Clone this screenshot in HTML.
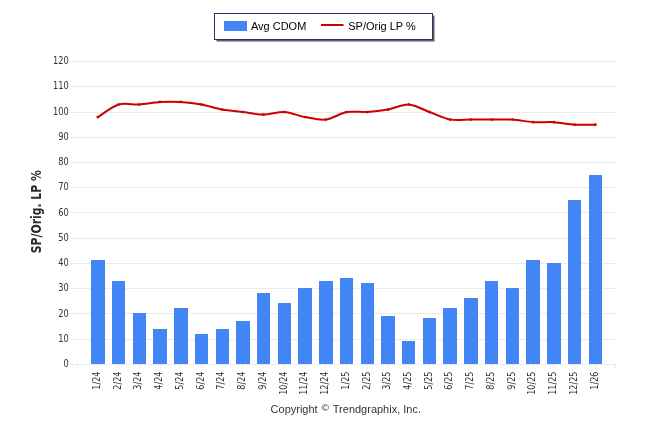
<!DOCTYPE html>
<html><head><meta charset="utf-8"><title>Chart</title>
<style>html,body{margin:0;padding:0;background:#fff}svg{display:block}text{font-family:"Liberation Sans",sans-serif}</style></head><body>
<svg width="646" height="434" viewBox="0 0 646 434">
<rect width="646" height="434" fill="#fff"/>
<line x1="70" x2="616" y1="364.5" y2="364.5" stroke="#ebebeb" stroke-width="1"/>
<line x1="70" x2="616" y1="339.5" y2="339.5" stroke="#ebebeb" stroke-width="1"/>
<line x1="70" x2="616" y1="313.5" y2="313.5" stroke="#ebebeb" stroke-width="1"/>
<line x1="70" x2="616" y1="288.5" y2="288.5" stroke="#ebebeb" stroke-width="1"/>
<line x1="70" x2="616" y1="263.5" y2="263.5" stroke="#ebebeb" stroke-width="1"/>
<line x1="70" x2="616" y1="238.5" y2="238.5" stroke="#ebebeb" stroke-width="1"/>
<line x1="70" x2="616" y1="212.5" y2="212.5" stroke="#ebebeb" stroke-width="1"/>
<line x1="70" x2="616" y1="187.5" y2="187.5" stroke="#ebebeb" stroke-width="1"/>
<line x1="70" x2="616" y1="162.5" y2="162.5" stroke="#ebebeb" stroke-width="1"/>
<line x1="70" x2="616" y1="137.5" y2="137.5" stroke="#ebebeb" stroke-width="1"/>
<line x1="70" x2="616" y1="112.5" y2="112.5" stroke="#ebebeb" stroke-width="1"/>
<line x1="70" x2="616" y1="86.5" y2="86.5" stroke="#ebebeb" stroke-width="1"/>
<line x1="70" x2="616" y1="61.5" y2="61.5" stroke="#ebebeb" stroke-width="1"/>
<line x1="77.5" x2="77.5" y1="364" y2="368.6" stroke="#ebebeb" stroke-width="1"/>
<line x1="97.5" x2="97.5" y1="364" y2="368.6" stroke="#ebebeb" stroke-width="1"/>
<line x1="118.5" x2="118.5" y1="364" y2="368.6" stroke="#ebebeb" stroke-width="1"/>
<line x1="139.5" x2="139.5" y1="364" y2="368.6" stroke="#ebebeb" stroke-width="1"/>
<line x1="160.5" x2="160.5" y1="364" y2="368.6" stroke="#ebebeb" stroke-width="1"/>
<line x1="180.5" x2="180.5" y1="364" y2="368.6" stroke="#ebebeb" stroke-width="1"/>
<line x1="201.5" x2="201.5" y1="364" y2="368.6" stroke="#ebebeb" stroke-width="1"/>
<line x1="222.5" x2="222.5" y1="364" y2="368.6" stroke="#ebebeb" stroke-width="1"/>
<line x1="242.5" x2="242.5" y1="364" y2="368.6" stroke="#ebebeb" stroke-width="1"/>
<line x1="263.5" x2="263.5" y1="364" y2="368.6" stroke="#ebebeb" stroke-width="1"/>
<line x1="284.5" x2="284.5" y1="364" y2="368.6" stroke="#ebebeb" stroke-width="1"/>
<line x1="305.5" x2="305.5" y1="364" y2="368.6" stroke="#ebebeb" stroke-width="1"/>
<line x1="325.5" x2="325.5" y1="364" y2="368.6" stroke="#ebebeb" stroke-width="1"/>
<line x1="346.5" x2="346.5" y1="364" y2="368.6" stroke="#ebebeb" stroke-width="1"/>
<line x1="367.5" x2="367.5" y1="364" y2="368.6" stroke="#ebebeb" stroke-width="1"/>
<line x1="388.5" x2="388.5" y1="364" y2="368.6" stroke="#ebebeb" stroke-width="1"/>
<line x1="408.5" x2="408.5" y1="364" y2="368.6" stroke="#ebebeb" stroke-width="1"/>
<line x1="429.5" x2="429.5" y1="364" y2="368.6" stroke="#ebebeb" stroke-width="1"/>
<line x1="450.5" x2="450.5" y1="364" y2="368.6" stroke="#ebebeb" stroke-width="1"/>
<line x1="470.5" x2="470.5" y1="364" y2="368.6" stroke="#ebebeb" stroke-width="1"/>
<line x1="491.5" x2="491.5" y1="364" y2="368.6" stroke="#ebebeb" stroke-width="1"/>
<line x1="512.5" x2="512.5" y1="364" y2="368.6" stroke="#ebebeb" stroke-width="1"/>
<line x1="533.5" x2="533.5" y1="364" y2="368.6" stroke="#ebebeb" stroke-width="1"/>
<line x1="553.5" x2="553.5" y1="364" y2="368.6" stroke="#ebebeb" stroke-width="1"/>
<line x1="574.5" x2="574.5" y1="364" y2="368.6" stroke="#ebebeb" stroke-width="1"/>
<line x1="595.5" x2="595.5" y1="364" y2="368.6" stroke="#ebebeb" stroke-width="1"/>
<line x1="615.5" x2="615.5" y1="364" y2="368.6" stroke="#ebebeb" stroke-width="1"/>
<text transform="translate(68.85,367) scale(0.75,1)" text-anchor="end" font-size="11" fill="#333333" style="font-family:'DejaVu Sans',sans-serif">0</text>
<text transform="translate(68.85,342) scale(0.75,1)" text-anchor="end" font-size="11" fill="#333333" style="font-family:'DejaVu Sans',sans-serif">10</text>
<text transform="translate(68.85,317) scale(0.75,1)" text-anchor="end" font-size="11" fill="#333333" style="font-family:'DejaVu Sans',sans-serif">20</text>
<text transform="translate(68.85,291) scale(0.75,1)" text-anchor="end" font-size="11" fill="#333333" style="font-family:'DejaVu Sans',sans-serif">30</text>
<text transform="translate(68.85,266) scale(0.75,1)" text-anchor="end" font-size="11" fill="#333333" style="font-family:'DejaVu Sans',sans-serif">40</text>
<text transform="translate(68.85,241) scale(0.75,1)" text-anchor="end" font-size="11" fill="#333333" style="font-family:'DejaVu Sans',sans-serif">50</text>
<text transform="translate(68.85,216) scale(0.75,1)" text-anchor="end" font-size="11" fill="#333333" style="font-family:'DejaVu Sans',sans-serif">60</text>
<text transform="translate(68.85,190) scale(0.75,1)" text-anchor="end" font-size="11" fill="#333333" style="font-family:'DejaVu Sans',sans-serif">70</text>
<text transform="translate(68.85,165) scale(0.75,1)" text-anchor="end" font-size="11" fill="#333333" style="font-family:'DejaVu Sans',sans-serif">80</text>
<text transform="translate(68.85,140) scale(0.75,1)" text-anchor="end" font-size="11" fill="#333333" style="font-family:'DejaVu Sans',sans-serif">90</text>
<text transform="translate(68.85,115) scale(0.75,1)" text-anchor="end" font-size="11" fill="#333333" style="font-family:'DejaVu Sans',sans-serif">100</text>
<text transform="translate(68.85,89) scale(0.75,1)" text-anchor="end" font-size="11" fill="#333333" style="font-family:'DejaVu Sans',sans-serif">110</text>
<text transform="translate(68.85,64) scale(0.75,1)" text-anchor="end" font-size="11" fill="#333333" style="font-family:'DejaVu Sans',sans-serif">120</text>
<rect x="91" y="260" width="14" height="104" fill="#4285f4"/>
<rect x="112" y="281" width="13" height="83" fill="#4285f4"/>
<rect x="133" y="313" width="13" height="51" fill="#4285f4"/>
<rect x="153" y="329" width="14" height="35" fill="#4285f4"/>
<rect x="174" y="308" width="14" height="56" fill="#4285f4"/>
<rect x="195" y="334" width="13" height="30" fill="#4285f4"/>
<rect x="216" y="329" width="13" height="35" fill="#4285f4"/>
<rect x="236" y="321" width="14" height="43" fill="#4285f4"/>
<rect x="257" y="293" width="13" height="71" fill="#4285f4"/>
<rect x="278" y="303" width="13" height="61" fill="#4285f4"/>
<rect x="298" y="288" width="14" height="76" fill="#4285f4"/>
<rect x="319" y="281" width="14" height="83" fill="#4285f4"/>
<rect x="340" y="278" width="13" height="86" fill="#4285f4"/>
<rect x="361" y="283" width="13" height="81" fill="#4285f4"/>
<rect x="381" y="316" width="14" height="48" fill="#4285f4"/>
<rect x="402" y="341" width="13" height="23" fill="#4285f4"/>
<rect x="423" y="318" width="13" height="46" fill="#4285f4"/>
<rect x="443" y="308" width="14" height="56" fill="#4285f4"/>
<rect x="464" y="298" width="14" height="66" fill="#4285f4"/>
<rect x="485" y="281" width="13" height="83" fill="#4285f4"/>
<rect x="506" y="288" width="13" height="76" fill="#4285f4"/>
<rect x="526" y="260" width="14" height="104" fill="#4285f4"/>
<rect x="547" y="263" width="14" height="101" fill="#4285f4"/>
<rect x="568" y="200" width="13" height="164" fill="#4285f4"/>
<rect x="589" y="175" width="13" height="189" fill="#4285f4"/>
<text transform="translate(100.03,371.5) rotate(-90) scale(0.735,1)" text-anchor="end" font-size="11" fill="#333333" style="font-family:'DejaVu Sans',sans-serif">1/24</text>
<text transform="translate(120.76,371.5) rotate(-90) scale(0.735,1)" text-anchor="end" font-size="11" fill="#333333" style="font-family:'DejaVu Sans',sans-serif">2/24</text>
<text transform="translate(141.49,371.5) rotate(-90) scale(0.735,1)" text-anchor="end" font-size="11" fill="#333333" style="font-family:'DejaVu Sans',sans-serif">3/24</text>
<text transform="translate(162.22,371.5) rotate(-90) scale(0.735,1)" text-anchor="end" font-size="11" fill="#333333" style="font-family:'DejaVu Sans',sans-serif">4/24</text>
<text transform="translate(182.95,371.5) rotate(-90) scale(0.735,1)" text-anchor="end" font-size="11" fill="#333333" style="font-family:'DejaVu Sans',sans-serif">5/24</text>
<text transform="translate(203.68,371.5) rotate(-90) scale(0.735,1)" text-anchor="end" font-size="11" fill="#333333" style="font-family:'DejaVu Sans',sans-serif">6/24</text>
<text transform="translate(224.41,371.5) rotate(-90) scale(0.735,1)" text-anchor="end" font-size="11" fill="#333333" style="font-family:'DejaVu Sans',sans-serif">7/24</text>
<text transform="translate(245.14,371.5) rotate(-90) scale(0.735,1)" text-anchor="end" font-size="11" fill="#333333" style="font-family:'DejaVu Sans',sans-serif">8/24</text>
<text transform="translate(265.87,371.5) rotate(-90) scale(0.735,1)" text-anchor="end" font-size="11" fill="#333333" style="font-family:'DejaVu Sans',sans-serif">9/24</text>
<text transform="translate(286.60,371.5) rotate(-90) scale(0.735,1)" text-anchor="end" font-size="11" fill="#333333" style="font-family:'DejaVu Sans',sans-serif">10/24</text>
<text transform="translate(307.33,371.5) rotate(-90) scale(0.735,1)" text-anchor="end" font-size="11" fill="#333333" style="font-family:'DejaVu Sans',sans-serif">11/24</text>
<text transform="translate(328.06,371.5) rotate(-90) scale(0.735,1)" text-anchor="end" font-size="11" fill="#333333" style="font-family:'DejaVu Sans',sans-serif">12/24</text>
<text transform="translate(348.79,371.5) rotate(-90) scale(0.735,1)" text-anchor="end" font-size="11" fill="#333333" style="font-family:'DejaVu Sans',sans-serif">1/25</text>
<text transform="translate(369.52,371.5) rotate(-90) scale(0.735,1)" text-anchor="end" font-size="11" fill="#333333" style="font-family:'DejaVu Sans',sans-serif">2/25</text>
<text transform="translate(390.25,371.5) rotate(-90) scale(0.735,1)" text-anchor="end" font-size="11" fill="#333333" style="font-family:'DejaVu Sans',sans-serif">3/25</text>
<text transform="translate(410.98,371.5) rotate(-90) scale(0.735,1)" text-anchor="end" font-size="11" fill="#333333" style="font-family:'DejaVu Sans',sans-serif">4/25</text>
<text transform="translate(431.71,371.5) rotate(-90) scale(0.735,1)" text-anchor="end" font-size="11" fill="#333333" style="font-family:'DejaVu Sans',sans-serif">5/25</text>
<text transform="translate(452.44,371.5) rotate(-90) scale(0.735,1)" text-anchor="end" font-size="11" fill="#333333" style="font-family:'DejaVu Sans',sans-serif">6/25</text>
<text transform="translate(473.17,371.5) rotate(-90) scale(0.735,1)" text-anchor="end" font-size="11" fill="#333333" style="font-family:'DejaVu Sans',sans-serif">7/25</text>
<text transform="translate(493.90,371.5) rotate(-90) scale(0.735,1)" text-anchor="end" font-size="11" fill="#333333" style="font-family:'DejaVu Sans',sans-serif">8/25</text>
<text transform="translate(514.63,371.5) rotate(-90) scale(0.735,1)" text-anchor="end" font-size="11" fill="#333333" style="font-family:'DejaVu Sans',sans-serif">9/25</text>
<text transform="translate(535.36,371.5) rotate(-90) scale(0.735,1)" text-anchor="end" font-size="11" fill="#333333" style="font-family:'DejaVu Sans',sans-serif">10/25</text>
<text transform="translate(556.09,371.5) rotate(-90) scale(0.735,1)" text-anchor="end" font-size="11" fill="#333333" style="font-family:'DejaVu Sans',sans-serif">11/25</text>
<text transform="translate(576.82,371.5) rotate(-90) scale(0.735,1)" text-anchor="end" font-size="11" fill="#333333" style="font-family:'DejaVu Sans',sans-serif">12/25</text>
<text transform="translate(597.55,371.5) rotate(-90) scale(0.735,1)" text-anchor="end" font-size="11" fill="#333333" style="font-family:'DejaVu Sans',sans-serif">1/26</text>
<path d="M97.83,117.10 C100.94,115.20 112.34,106.37 118.56,104.48 C124.78,102.59 133.07,104.86 139.29,104.48 C145.51,104.10 153.80,102.34 160.02,101.96 C166.24,101.58 174.53,101.58 180.75,101.96 C186.97,102.34 195.26,103.35 201.48,104.48 C207.70,105.62 215.99,108.39 222.21,109.53 C228.43,110.66 236.72,111.29 242.94,112.05 C249.16,112.81 257.45,114.57 263.67,114.57 C269.89,114.57 278.18,111.67 284.40,112.05 C290.62,112.43 298.91,115.96 305.13,117.10 C311.35,118.23 319.64,120.38 325.86,119.62 C332.08,118.86 340.37,113.19 346.59,112.05 C352.81,110.91 361.10,112.43 367.32,112.05 C373.54,111.67 381.83,110.66 388.05,109.53 C394.27,108.39 402.56,104.10 408.78,104.48 C415.00,104.86 423.29,109.78 429.51,112.05 C435.73,114.32 444.02,118.48 450.24,119.62 C456.46,120.75 464.75,119.62 470.97,119.62 C477.19,119.62 485.48,119.62 491.70,119.62 C497.92,119.62 506.21,119.24 512.43,119.62 C518.65,120.00 526.94,121.76 533.16,122.14 C539.38,122.52 547.67,121.76 553.89,122.14 C560.11,122.52 568.40,124.29 574.62,124.67 C580.84,125.04 592.24,124.67 595.35,124.67" fill="none" stroke="#cc0000" stroke-width="2" stroke-linecap="round" stroke-linejoin="round"/>
<circle cx="97.83" cy="117.10" r="1.35" fill="#cc0000"/>
<circle cx="118.56" cy="104.48" r="1.35" fill="#cc0000"/>
<circle cx="139.29" cy="104.48" r="1.35" fill="#cc0000"/>
<circle cx="160.02" cy="101.96" r="1.35" fill="#cc0000"/>
<circle cx="180.75" cy="101.96" r="1.35" fill="#cc0000"/>
<circle cx="201.48" cy="104.48" r="1.35" fill="#cc0000"/>
<circle cx="222.21" cy="109.53" r="1.35" fill="#cc0000"/>
<circle cx="242.94" cy="112.05" r="1.35" fill="#cc0000"/>
<circle cx="263.67" cy="114.57" r="1.35" fill="#cc0000"/>
<circle cx="284.40" cy="112.05" r="1.35" fill="#cc0000"/>
<circle cx="305.13" cy="117.10" r="1.35" fill="#cc0000"/>
<circle cx="325.86" cy="119.62" r="1.35" fill="#cc0000"/>
<circle cx="346.59" cy="112.05" r="1.35" fill="#cc0000"/>
<circle cx="367.32" cy="112.05" r="1.35" fill="#cc0000"/>
<circle cx="388.05" cy="109.53" r="1.35" fill="#cc0000"/>
<circle cx="408.78" cy="104.48" r="1.35" fill="#cc0000"/>
<circle cx="429.51" cy="112.05" r="1.35" fill="#cc0000"/>
<circle cx="450.24" cy="119.62" r="1.35" fill="#cc0000"/>
<circle cx="470.97" cy="119.62" r="1.35" fill="#cc0000"/>
<circle cx="491.70" cy="119.62" r="1.35" fill="#cc0000"/>
<circle cx="512.43" cy="119.62" r="1.35" fill="#cc0000"/>
<circle cx="533.16" cy="122.14" r="1.35" fill="#cc0000"/>
<circle cx="553.89" cy="122.14" r="1.35" fill="#cc0000"/>
<circle cx="574.62" cy="124.67" r="1.35" fill="#cc0000"/>
<circle cx="595.35" cy="124.67" r="1.35" fill="#cc0000"/>
<text transform="translate(40.8,253.2) rotate(-90)" font-size="13.3" font-weight="bold" fill="#2b2b2b" style="font-family:'DejaVu Sans',sans-serif;font-stretch:condensed" textLength="83" lengthAdjust="spacingAndGlyphs">SP/Orig. LP %</text>
<rect x="216.5" y="15.5" width="218" height="26" fill="#505050" opacity="0.9"/>
<rect x="214.5" y="13.5" width="218" height="26" fill="#fff" stroke="#1f3864" stroke-width="1"/>
<rect x="224" y="21" width="23" height="10" fill="#4285f4"/>
<text transform="translate(251,29.6) scale(0.955,1)" font-size="11.5" fill="#000">Avg CDOM</text>
<line x1="321" x2="343.5" y1="25" y2="25" stroke="#cc0000" stroke-width="2"/>
<text transform="translate(348.3,29.6) scale(0.955,1)" font-size="11.5" fill="#000">SP/Orig LP %</text>
<text transform="translate(270.6,412.7) scale(0.948,1)" font-size="11.6" fill="#333333">Copyright</text>
<text transform="translate(325.2,410.8) scale(1.2,1)" text-anchor="middle" font-size="8.5" fill="#333333">©</text>
<text transform="translate(332.8,412.7) scale(0.948,1)" font-size="11.6" fill="#333333">Trendgraphix, Inc.</text>
</svg></body></html>
